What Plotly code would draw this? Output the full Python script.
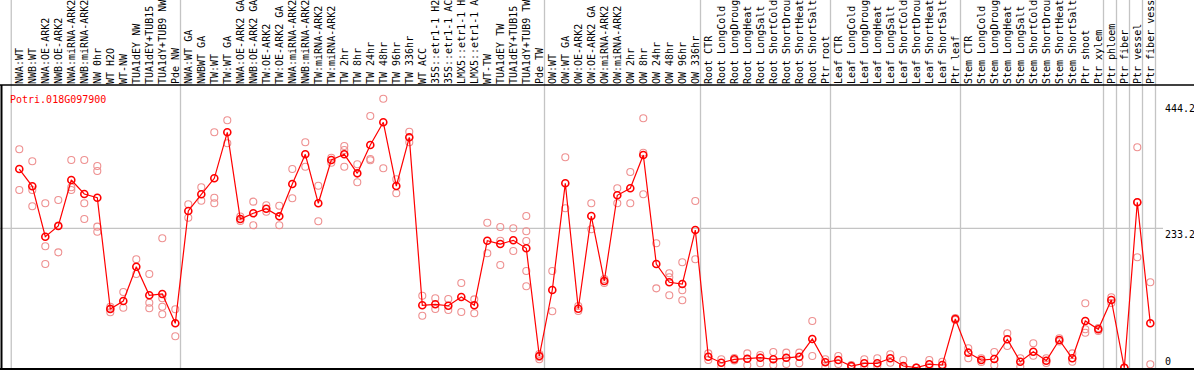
import plotly.graph_objects as go

categories = [
    "NWA:WT", "NWB:WT", "NWA:OE-ARK2", "NWB:OE-ARK2", "NWA:miRNA-ARK2", "NWB:miRNA-ARK2",
    "NW 0hr", "WT H2O", "WT-NW", "TUA1dEY NW", "TUA1dEY+TUB15 NW", "TUA1dY+TUB9 NW", "Pde NW",
    "NWA:WT GA", "NWBWT GA", "TW:WT", "TW:WT GA", "NWA:OE-ARK2 GA", "NWB:OE-ARK2 GA",
    "TW:OE-ARK2", "TW:OE-ARK2 GA", "NWA:miRNA-ARK2 GA", "NWB:miRNA-ARK2 GA", "TW:miRNA-ARK2",
    "TW:miRNA-ARK2 GA", "TW 2hr", "TW 8hr", "TW 24hr", "TW 48hr", "TW 96hr", "TW 336hr", "WT ACC",
    "35S::etr1-1 H2O", "35S::etr1-1 ACC", "LMX5::etr1-1 H2O", "LMX5::etr1-1 ACC", "WT-TW",
    "TUA1dEY TW", "TUA1dEY+TUB15 TW", "TUA1dY+TUB9 TW", "Pde TW",
    "OW:WT", "OW:WT GA", "OW:OE-ARK2", "OW:OE-ARK2 GA", "OW:miRNA-ARK2", "OW:miRNA-ARK2 GA",
    "OW 2hr", "OW 8hr", "OW 24hr", "OW 48hr", "OW 96hr", "OW 336hr",
    "Root CTR", "Root LongCold", "Root LongDrought", "Root LongHeat", "Root LongSalt",
    "Root ShortCold", "Root ShortDrought", "Root ShortHeat", "Root ShortSalt", "Ptr root",
    "Leaf CTR", "Leaf LongCold", "Leaf LongDrought", "Leaf LongHeat", "Leaf LongSalt",
    "Leaf ShortCold", "Leaf ShortDrought", "Leaf ShortHeat", "Leaf ShortSalt", "Ptr leaf",
    "Stem CTR", "Stem LongCold", "Stem LongDrought", "Stem LongHeat", "Stem LongSalt",
    "Stem ShortCold", "Stem ShortDrought", "Stem ShortHeat", "Stem ShortSalt", "Ptr shoot",
    "Ptr xylem", "Ptr phloem", "Ptr fiber", "Ptr vessel", "Ptr fiber vessel",
]

mean_values = [
    332.4, 303.5, 219.2, 237.1, 314.0, 290.6, 284.4, 98.3, 111.7, 169.1, 121.2, 123.4, 74.4,
    262.2, 290.1, 316.9, 393.8, 248.8, 258.4, 266.0, 253.3, 307.4, 357.0, 275.1, 347.5,
    357.0, 325.2, 372.6, 410.5, 304.0, 385.4, 104.5, 106.2, 103.8, 118.4, 104.5, 212.5,
    207.0, 213.2, 199.8, 19.7,
    130.1, 308.5, 98.8, 253.8, 145.1, 288.5, 300.2, 355.8, 173.6, 143.0, 140.1, 230.4,
    18.6, 8.5, 14.2, 15.2, 16.9, 14.2, 16.9, 18.6, 48.2, 9.2,
    13.0, 3.0, 7.5, 7.5, 15.9, 3.0, 0.2, 5.9, 4.7, 81.6,
    25.3, 13.0, 14.7, 47.7, 10.2, 26.9, 11.9, 46.5, 15.9, 78.3, 64.4,
    113.4, 0.0, 276.8, 74.4,
]

replicate_values = [
    [365.4, 297.3], [345.3, 297.3, 270.1], [275.1, 203.2, 173.6], [280.6, 193.1, 238.0],
    [347.5, 301.8, 297.3], [347.5, 275.1, 248.8], [337.5, 329.1, 236.0, 227.6],
    [102.2, 92.8, 99.0], [126.8, 100.5], [181.4, 156.9], [156.9, 108.9, 99.5],
    [216.6, 116.2, 102.2, 89.5], [97.8, 52.7],
    [273.4, 251.0], [301.8, 279.4], [393.8, 284.4, 275.1], [413.9, 375.4], [253.0, 245.5],
    [277.8, 238.3], [271.7, 261.0], [271.1, 238.3], [332.4, 283.4], [377.1, 336.3],
    [304.5, 245.0], [351.3, 343.0], [370.9, 364.2, 336.3], [340.3, 310.2],
    [421.1, 349.2, 347.0], [450.0, 333.6], [315.2, 291.8], [394.8, 377.1],
    [120.6, 87.1], [116.2, 98.3], [115.0, 96.7], [141.8, 93.3], [114.5, 91.1],
    [242.6, 191.5], [235.4, 212.5, 171.9], [233.3, 195.3],
    [253.8, 228.3, 212.0, 161.9, 136.3], [18.1, 14.2, 23.0],
    [161.9, 94.5], [352.0, 266.7], [103.3, 95.0], [275.1, 231.6], [148.5, 141.8],
    [300.2, 275.1], [327.4, 275.1], [417.2, 359.7, 290.1], [208.2, 132.9],
    [158.0, 151.3, 121.2], [176.4, 129.6, 112.9], [278.9, 181.4],
    [24.2, 13.0], [14.2, 1.8], [16.4, 12.2], [24.2, 4.2], [21.4, 7.5], [26.4, 4.7],
    [25.3, 6.4], [25.3, 7.5], [78.3, 19.7], [14.2, 0.8],
    [19.7, 6.4], [1.3, 4.7], [14.2, 2.2], [15.9, 3.0], [22.6, 8.5], [13.0, 0.0],
    [0.5, 0.0], [13.0, 1.3], [10.2, 0.5], [83.3, 79.9],
    [32.6, 15.9], [15.9, 9.7], [26.4, 4.2], [57.7, 36.5], [15.9, 1.8], [41.0, 20.2],
    [15.9, 8.0], [49.3, 44.0], [24.2, 10.2], [107.9, 64.4, 58.7], [66.6, 61.5],
    [117.9, 108.4], [0.0, 0.0], [368.7, 184.8, 276.9], [143.0, 5.9],
]

gene_title = "Potri.018G097900"
y_tick_values = [444.2, 233.2, 0]
y_tick_labels = ["444.2", "233.2", "0"]
group_ends = [-1, 12, 40, 52, 62, 72, 83, 84, 85, 86, 87]
grid_value = 233.2

W, H = 1194, 370
ML, MR, MT, MB = 2, 0, 85, 1
PW, PH = W - ML - MR, H - MT - MB
PX_PER_CAT = 13.0
FIRST_PX = 19.3
x_lo = (ML - FIRST_PX) / PX_PER_CAT
x_hi = x_lo + PW / PX_PER_CAT
y_lo, y_hi = -2.0, 472.9

def xpaper(k):
    return (k - x_lo) / (x_hi - x_lo)

mono = "DejaVu Sans Mono"
idx = list(range(len(categories)))

rep_x, rep_y = [], []
for k, reps in enumerate(replicate_values):
    for r in reps:
        rep_x.append(k)
        rep_y.append(r)

fig = go.Figure()
fig.add_trace(go.Scatter(
    x=rep_x, y=rep_y, mode="markers", cliponaxis=False,
    marker=dict(symbol="circle-open", size=7, color="#ee9090", line=dict(width=1.1, color="#ee9090")),
    showlegend=False, hoverinfo="skip"))
fig.add_trace(go.Scatter(
    x=idx, y=mean_values, mode="lines+markers", cliponaxis=False,
    line=dict(color="#ff0000", width=1.2),
    marker=dict(symbol="circle-open", size=7, color="#ff0000", line=dict(width=1.6, color="#ff0000")),
    showlegend=False))

shapes = []
top_paper = 1 + MT / PH
bot_paper = -MB / PH
for g in group_ends:
    xp = xpaper(g + 0.4) if g >= 0 else xpaper(-0.62)
    shapes.append(dict(type="line", xref="paper", yref="paper", x0=xp, x1=xp,
                       y0=bot_paper, y1=top_paper, layer="below",
                       line=dict(color="#c4c4c4", width=1.3)))
label_left_px = 1163
shapes.append(dict(type="line", xref="paper", yref="y", x0=-ML / PW, x1=(label_left_px - ML) / PW,
                   y0=grid_value, y1=grid_value, layer="below",
                   line=dict(color="#c4c4c4", width=1.3)))
shapes.append(dict(type="line", xref="paper", yref="paper", x0=-ML / PW, x1=1, y0=1, y1=1,
                   line=dict(color="black", width=1.3)))
shapes.append(dict(type="line", xref="paper", yref="paper", x0=-ML / PW, x1=1, y0=0, y1=0,
                   line=dict(color="black", width=2)))
shapes.append(dict(type="line", xref="paper", yref="paper", x0=-0.5 / PW, x1=-0.5 / PW, y0=0, y1=1,
                   line=dict(color="black", width=2)))

annotations = [dict(text=gene_title, xref="paper", yref="paper",
                    x=(8 - ML) / PW, y=1 - 7 / PH, xanchor="left", yanchor="top",
                    showarrow=False, font=dict(family=mono, size=10, color="#ff0000"))]
for v, t in zip(y_tick_values, y_tick_labels):
    if v > 0:
        annotations.append(dict(text=t, xref="paper", yref="y", x=(label_left_px - ML) / PW, y=v,
                                xanchor="left", yanchor="top", showarrow=False, yshift=1,
                                font=dict(family=mono, size=10, color="black")))
    else:
        annotations.append(dict(text=t, xref="paper", yref="y", x=(label_left_px - ML) / PW, y=v,
                                xanchor="left", yanchor="bottom", showarrow=False, yshift=-1,
                                font=dict(family=mono, size=10, color="black")))

fig.update_layout(
    width=W, height=H, margin=dict(l=ML, r=MR, t=MT, b=MB, pad=0, autoexpand=False),
    paper_bgcolor="white", plot_bgcolor="white",
    shapes=shapes, annotations=annotations, showlegend=False,
    xaxis=dict(range=[x_lo, x_hi], side="top", tickmode="array", tickvals=idx, ticktext=categories,
               tickangle=-90, ticks="", showgrid=False, zeroline=False, showline=False,
               automargin=False, tickfont=dict(family=mono, size=10, color="black")),
    yaxis=dict(range=[y_lo, y_hi], showticklabels=False, showgrid=False, zeroline=False,
               showline=False, automargin=False, ticks=""),
)

fig.write_html("out.html", config={"displayModeBar": False},
               post_script="document.body.style.margin='0px';document.body.style.padding='0px';")
